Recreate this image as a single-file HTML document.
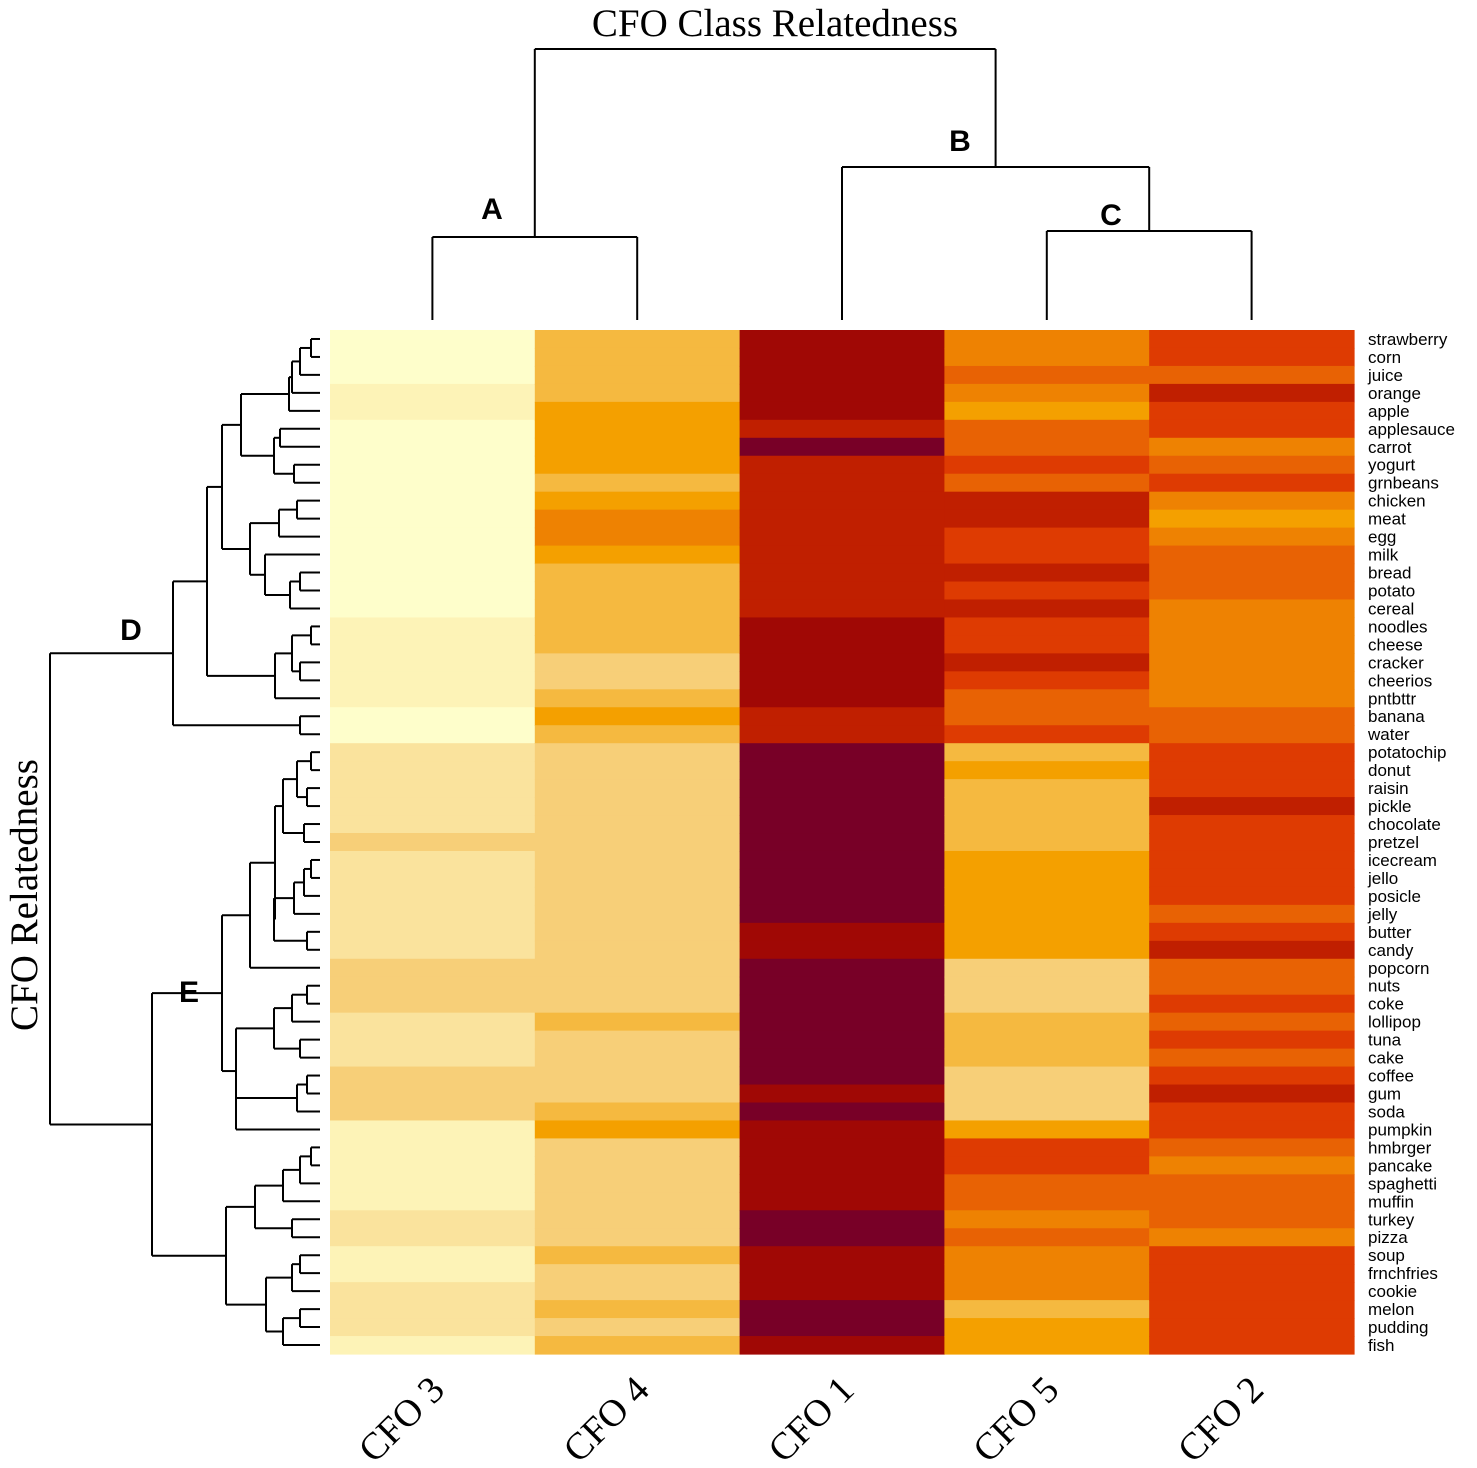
<!DOCTYPE html>
<html><head><meta charset="utf-8"><style>
html,body{margin:0;padding:0;background:#fff;}
svg{display:block;}
</style></head><body>
<svg id="chart" width="1477" height="1468" viewBox="0 0 1477 1468" xmlns="http://www.w3.org/2000/svg">
<text x="775" y="36" text-anchor="middle" font-family="Liberation Serif, serif" font-size="39">CFO Class Relatedness</text>
<text transform="translate(37,895) rotate(-90)" text-anchor="middle" font-family="Liberation Serif, serif" font-size="39">CFO Relatedness</text>
<g id="heat"></g>
<g id="dendro" stroke="#000" stroke-width="2" fill="none"></g>
<g id="labels"></g>
<text x="492" y="219" text-anchor="middle" font-family="Liberation Sans, sans-serif" font-weight="bold" font-size="30">A</text>
<text x="960" y="151" text-anchor="middle" font-family="Liberation Sans, sans-serif" font-weight="bold" font-size="30">B</text>
<text x="1111" y="225" text-anchor="middle" font-family="Liberation Sans, sans-serif" font-weight="bold" font-size="30">C</text>
<text x="131" y="640" text-anchor="middle" font-family="Liberation Sans, sans-serif" font-weight="bold" font-size="30">D</text>
<text x="189" y="1002" text-anchor="middle" font-family="Liberation Sans, sans-serif" font-weight="bold" font-size="30">E</text>
</svg>
<script>
const columns = ["CFO 3","CFO 4","CFO 1","CFO 5","CFO 2"];
const foods = ["strawberry","corn","juice","orange","apple","applesauce","carrot","yogurt","grnbeans","chicken","meat","egg","milk","bread","potato","cereal","noodles","cheese","cracker","cheerios","pntbttr","banana","water","potatochip","donut","raisin","pickle","chocolate","pretzel","icecream","jello","posicle","jelly","butter","candy","popcorn","nuts","coke","lollipop","tuna","cake","coffee","gum","soda","pumpkin","hmbrger","pancake","spaghetti","muffin","turkey","pizza","soup","frnchfries","cookie","melon","pudding","fish"];
const levelColors = ["#FEFECB","#FDF3B7","#FAE39D","#F7CF78","#F5B940","#F4A000","#EE8202","#E86204","#DE3B02","#C01F00","#A00805","#780027"];
const cfo3 = [1,1,1,2,2,1,1,1,1,1,1,1,1,1,1,1,2,2,2,2,2,1,1,3,3,3,3,3,4,3,3,3,3,3,3,4,4,4,3,3,3,4,4,4,2,2,2,2,2,3,3,2,2,3,3,3,2];
const cfo4 = [5,5,5,5,6,6,6,6,5,6,7,7,6,5,5,5,5,5,4,4,5,6,5,4,4,4,4,4,4,4,4,4,4,4,4,4,4,4,5,4,4,4,4,5,6,4,4,4,4,4,4,5,4,4,5,4,5];
const cfo1 = [11,11,11,11,11,10,12,10,10,10,10,10,10,10,10,10,11,11,11,11,11,10,10,12,12,12,12,12,12,12,12,12,12,11,11,12,12,12,12,12,12,12,11,12,11,11,11,11,11,12,12,11,11,11,12,12,11];
const cfo5 = [7,7,8,7,6,8,8,9,8,10,10,9,9,10,9,10,9,9,10,9,8,8,9,5,6,5,5,5,5,6,6,6,6,6,6,4,4,4,5,5,5,4,4,4,6,9,9,8,8,7,8,7,7,7,5,6,6];
const cfo2 = [9,9,8,10,9,9,7,8,9,7,6,7,8,8,8,7,7,7,7,7,7,8,8,9,9,9,10,9,9,9,9,9,8,9,10,8,8,9,8,9,8,9,10,9,9,8,7,8,8,8,7,9,9,9,9,9,9];
const seriesByColumn = [cfo3, cfo4, cfo1, cfo5, cfo2];

// Row dendrogram: [mergeX, left, right]; leaves are row indices
const rowTree = [50,
  [173,
    [207,
      [222,
        [241, [289,[292,[300,[311,0,1],2],3],4], [274,[280,5,6],[294,7,8]]],
        [250, [279,[297,9,10],11], [265,12,[290,[300,13,14],15]]]
      ],
      [275, [292,[311,16,17],[300,18,19]], 20]
    ],
    [300,21,22]
  ],
  [152,
    [222,
      [250,
        [275,
          [283, [297,[311,23,24],[307,25,26]], [304,27,28]],
          [274, [294,[304,[311,29,30],31],32], [307,33,34]]
        ],
        35
      ],
      [236,
        [274, [292,[307,36,37],38], [300,39,40]],
        [236, [297,[307,41,42],43], 44]
      ]
    ],
    [226,
      [255, [283,[300,[311,45,46],47],48], [292,49,50]],
      [266, [292,[300,51,52],53], [283,[300,54,55],56]]
    ]
  ]
];
// Column dendrogram: [mergeY, left, right]; leaves are column indices
const colTree = [49, [237,0,1], [167,2,[231,3,4]]];

const NS = "http://www.w3.org/2000/svg";
const X0 = 330, X1 = 1354, Y0 = 330, Y1 = 1354;
const nRows = foods.length, nCols = columns.length;
const cw = (X1 - X0) / nCols, rh = (Y1 - Y0) / nRows;
function xCol(j){ return X0 + j * cw; }
function yRow(i){ return Y0 + i * rh; }
function colorOf(v){ return levelColors[v - 1]; }

const heat = document.getElementById('heat');
for (let j = 0; j < nCols; j++) {
  const vals = seriesByColumn[j];
  for (let i = 0; i < nRows; i++) {
    const r = document.createElementNS(NS, 'rect');
    r.setAttribute('x', xCol(j));
    r.setAttribute('y', yRow(i));
    r.setAttribute('width', cw + 0.6);
    r.setAttribute('height', rh + 0.6);
    r.setAttribute('fill', colorOf(vals[i]));
    
    
    heat.appendChild(r);
  }
}

const dendro = document.getElementById('dendro');
function line(x1, y1, x2, y2, name) {
  const l = document.createElementNS(NS, 'line');
  l.setAttribute('x1', x1); l.setAttribute('y1', y1);
  l.setAttribute('x2', x2); l.setAttribute('y2', y2);
  
  
  dendro.appendChild(l);
}
function drawRow(node) {
  if (typeof node === 'number') return { x: 320, y: yRow(node) + rh / 2 };
  const h = node[0];
  const a = drawRow(node[1]), b = drawRow(node[2]);
  line(h, a.y, a.x, a.y, 'row-dendrogram-branch');
  line(h, b.y, b.x, b.y, 'row-dendrogram-branch');
  line(h, a.y, h, b.y, 'row-dendrogram-link');
  return { x: h, y: (a.y + b.y) / 2 };
}
function drawCol(node) {
  if (typeof node === 'number') return { x: xCol(node) + cw / 2, y: 320 };
  const h = node[0];
  const a = drawCol(node[1]), b = drawCol(node[2]);
  line(a.x, h, a.x, a.y, 'column-dendrogram-branch');
  line(b.x, h, b.x, b.y, 'column-dendrogram-branch');
  line(a.x, h, b.x, h, 'column-dendrogram-link');
  return { x: (a.x + b.x) / 2, y: h };
}
drawRow(rowTree);
drawCol(colTree);

const labels = document.getElementById('labels');
for (let i = 0; i < nRows; i++) {
  const t = document.createElementNS(NS, 'text');
  t.setAttribute('x', 1368);
  t.setAttribute('y', yRow(i) + rh / 2 + 6);
  t.setAttribute('font-family', 'Liberation Sans, sans-serif');
  t.setAttribute('font-size', '17');
  t.textContent = foods[i];
  
  
  labels.appendChild(t);
}
for (let j = 0; j < nCols; j++) {
  const t = document.createElementNS(NS, 'text');
  const cx = xCol(j) + cw / 2;
  t.setAttribute('transform', 'translate(' + (cx + 14) + ',1392) rotate(-45)');
  t.setAttribute('text-anchor', 'end');
  t.setAttribute('font-family', 'Liberation Serif, serif');
  t.setAttribute('font-size', '38');
  t.textContent = columns[j];
  
  
  labels.appendChild(t);
}
</script>
</body></html>
